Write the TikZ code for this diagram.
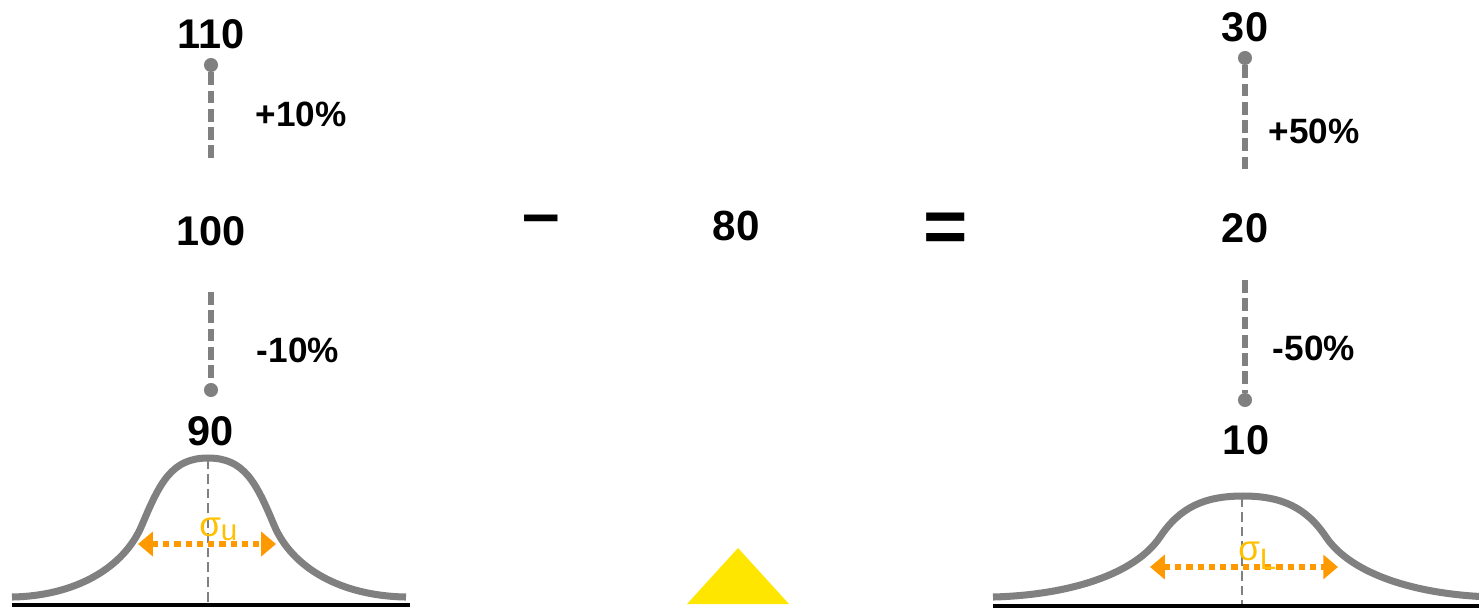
\documentclass[tikz,border=0pt]{standalone}
\usepackage{fontspec}
\setmainfont{Liberation Sans}
\usepackage{xcolor}
\usepackage{tikz}
\usetikzlibrary{arrows.meta, positioning}
\definecolor{bellgray}{RGB}{128,128,128}
\definecolor{sigorange}{RGB}{255,153,0}
\definecolor{siglabel}{RGB}{255,192,0}
\definecolor{markyellow}{RGB}{255,230,0}
\newcommand\sublow[2]{\raisebox{-#1}{\fontsize{21}{22}\selectfont #2}}

\begin{document}
\begin{tikzpicture}[x=0.025cm, y=-0.025cm,
  numlab/.style={font=\fontsize{29.5}{31}\selectfont\bfseries, inner sep=0pt},
  pctlab/.style={font=\fontsize{25}{27}\selectfont\bfseries, inner sep=0pt},
  endpt/.style={circle, fill=bellgray, inner sep=0pt, minimum size=10pt},
  rangeline/.style={bellgray, line width=4pt, dash pattern=on 9pt off 4pt},
  bellcurve/.style={bellgray, line width=5pt, line join=round},
  meanline/.style={bellgray, line width=1.8pt, dash pattern=on 7pt off 3.5pt},
  axisline/.style={black, line width=2.8pt},
  spreadarrow/.style={sigorange, line width=4.3pt, dash pattern=on 4.5pt off 3.5pt,
    {Triangle[length=10.5pt,width=17pt]}-{Triangle[length=10.5pt,width=17pt]}},
  siglab/.style={siglabel, font=\fontsize{25}{27}\selectfont, inner sep=0pt}]
  \useasboundingbox (0,0) rectangle (1479,608);

  % left: 100 with +/-10%
  \node[numlab] (n110) at (211,34) {110};
  \node[endpt] (dot110) at (211,65) {};
  \coordinate (up100) at (211,163);
  \draw[rangeline] (dot110) -- (up100);
  \node[pctlab] (plus10) at (301,114) {+10\%};
  \node[numlab] (n100) at (211,231) {100};
  \coordinate (down100) at (211,292);
  \node[endpt] (dot90) at (211,390) {};
  \draw[rangeline] (down100) -- (dot90);
  \node[pctlab] (minus10) at (298,350) {-10\%};
  \node[numlab] (n90) at (211,431) {90};

  % left distribution (narrow)
  \draw[axisline] (12,605) -- (410,605);
  \draw[bellcurve] (12,597) .. controls (75,596) and (124,568) .. (142,525)
    .. controls (160,482) and (172,458) .. (208,458)
    .. controls (244,458) and (256,482) .. (274,525)
    .. controls (292,568) and (341,596) .. (406,597);
  \draw[meanline] (208,459) -- (208,603);
  \coordinate (sulo) at (138,544);
  \coordinate (suhi) at (276,544);
  \draw[spreadarrow] (sulo) -- (suhi);
  \node[siglab, anchor=base west] (sigu) at (199,536) {σ\sublow{3.5pt}{u}};

  % operators and 80
  \node[font=\fontsize{48}{50}\selectfont\bfseries, inner sep=0pt] (opminus) at (541,226) {–};
  \node[font=\fontsize{30}{32}\selectfont\bfseries, inner sep=0pt] (n80) at (736,226) {80};
  \node[font=\fontsize{54}{56}\selectfont\bfseries, inner sep=0pt] (opequal) at (946,233) {=};
  \fill[markyellow] (738,548) -- (789,604) -- (687,604) -- cycle;

  % right: 20 with +/-50%
  \node[numlab] (n30) at (1245,27) {30};
  \node[endpt] (dot30) at (1245,58) {};
  \coordinate (up20) at (1245,172);
  \draw[rangeline] (dot30) -- (up20);
  \node[pctlab] (plus50) at (1314,131) {+50\%};
  \node[numlab] (n20) at (1245,228) {20};
  \coordinate (down20) at (1245,280);
  \node[endpt] (dot10) at (1245,400) {};
  \draw[rangeline] (down20) -- (dot10);
  \node[pctlab] (minus50) at (1314,348) {-50\%};
  \node[numlab] (n10) at (1246,440) {10};

  % right distribution (wide)
  \draw[axisline] (993,606) -- (1479,606);
  \draw[bellcurve] (993,597) .. controls (1070,595) and (1135,574) .. (1160,537)
    .. controls (1180,507) and (1205,496) .. (1243,496)
    .. controls (1281,496) and (1306,507) .. (1326,537)
    .. controls (1351,574) and (1416,595) .. (1493,597);
  \draw[meanline] (1242,497) -- (1242,604);
  \coordinate (sllo) at (1150,567);
  \coordinate (slhi) at (1338,567);
  \draw[spreadarrow] (sllo) -- (slhi);
  \node[siglab, anchor=base west] (sigl) at (1238,560) {σ\sublow{7pt}{L}};
\end{tikzpicture}
\end{document}
